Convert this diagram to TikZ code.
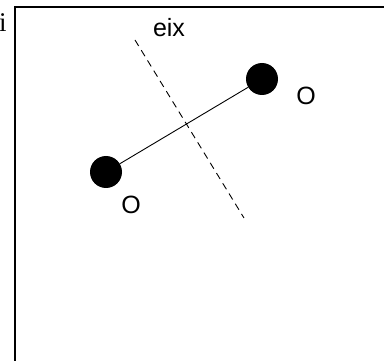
\documentclass[tikz,border=0pt]{standalone}
\usepackage{fontspec}
\setmainfont{Liberation Sans}
\newfontfamily\seriffont{Liberation Serif}
\tikzset{
  atom/.style={circle, fill=black, inner sep=0pt, minimum size=32pt},
  lbl/.style={inner sep=0pt, font=\fontsize{25}{30}\selectfont},
  frameline/.style={line width=2pt},
  axisline/.style={line width=0.9pt, dash pattern=on 7pt off 5pt},
  bond/.style={line width=0.9pt}
}
\begin{document}
\begin{tikzpicture}[x=1pt, y=-1pt]
\useasboundingbox (0,0) rectangle (384,361);
\fill[white] (0,0) rectangle (384,361);
% frame
\coordinate (fbl) at (15,361);
\coordinate (ftl) at (15,7);
\coordinate (ftr) at (384,7);
\draw[frameline] (fbl) -- (ftl) -- (ftr);
% cut-off letter at left edge
\node[anchor=base west, inner sep=0pt, font=\seriffont\fontsize{27}{30}\selectfont] (cut) at (-1,32) {i};
% axis
\coordinate (ax1) at (135,40);
\coordinate (ax2) at (244,218);
\draw[axisline] (ax1) -- (ax2);
\node[lbl, anchor=base] (eix) at (169,37) {eix};
% atoms
\node[atom] (a1) at (106,172) {};
\node[atom] (a2) at (262,79) {};
\draw[bond] (a1) -- (a2);
\node[lbl] (o1) at (131,205) {O};
\node[lbl] (o2) at (306,96) {O};
\end{tikzpicture}
\end{document}
